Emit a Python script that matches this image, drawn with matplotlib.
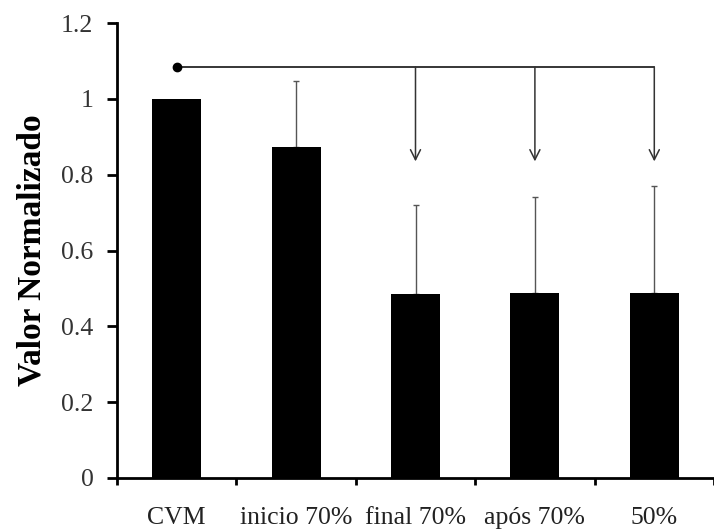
import numpy as np
import matplotlib
matplotlib.use("Agg")
import matplotlib.pyplot as plt

plt.rcParams['font.family'] = ['Liberation Serif', 'DejaVu Serif']

# dados
categorias = ['CVM', 'inicio 70%', 'final 70%', 'após 70%', '50%']
valores = [1.0, 0.873, 0.485, 0.488, 0.488]
erros = [0.0, 0.174, 0.235, 0.253, 0.282]
yticks = [0, 0.2, 0.4, 0.6, 0.8, 1.0, 1.2]
ytick_labels = ['0', '0.2', '0.4', '0.6', '0.8', '1', '1.2']
# bracket de significância
origem = 0
alvos = [2, 3, 4]
nivel_bracket = 1.084
ponta_seta = 0.835

fig = plt.figure(figsize=(7.14, 5.29), dpi=100)
ax = fig.add_axes([117/714, (529-478)/529, 1.0 - 117/714, (478-23)/529])

x = np.arange(len(categorias))
ax.bar(x, valores, width=0.41, color='black', zorder=2)
# barras de erro só para cima (sem a de CVM)
com_erro = [i for i, e in enumerate(erros) if e > 0]
ax.errorbar(x[com_erro], [valores[i] for i in com_erro],
            yerr=[np.zeros(len(com_erro)), [erros[i] for i in com_erro]], fmt='none',
            ecolor='#555555', elinewidth=1.0, capsize=2, capthick=1.0, zorder=1)

# bracket com setas
ax.plot([x[origem], x[alvos[-1]]], [nivel_bracket, nivel_bracket], color='black', lw=1.1)
ax.plot(x[origem], nivel_bracket, 'o', color='black', ms=6)
for a in alvos:
    ax.annotate('', xy=(x[a], ponta_seta), xytext=(x[a], nivel_bracket),
                arrowprops=dict(arrowstyle='->', color='#333333', lw=1.1,
                                mutation_scale=18, shrinkA=0, shrinkB=0))

ax.set_xlim(-0.5, 4.47)
ax.set_ylim(0, 1.2)
ax.set_yticks(yticks)
ax.set_yticklabels(ytick_labels, fontsize=18.5, color='#333333')
ax.set_xticks(np.arange(-0.5, 5, 1), minor=False)
ax.set_xticklabels([])
ax.set_xticks(x, minor=True)
ax.set_xticklabels(categorias, minor=True, fontsize=18.5, color='#222222')
ax.tick_params(axis='x', which='minor', length=0, pad=21)
ax.tick_params(axis='x', which='major', length=5, width=2, direction='out')
ax.tick_params(axis='y', length=7, width=2, direction='out', pad=10)

for s in ['top', 'right']:
    ax.spines[s].set_visible(False)
for s in ['left', 'bottom']:
    ax.spines[s].set_linewidth(2)

ax.set_ylabel('Valor Normalizado', fontsize=24, fontweight='bold', labelpad=10)

fig.savefig('out.png', dpi=100)
